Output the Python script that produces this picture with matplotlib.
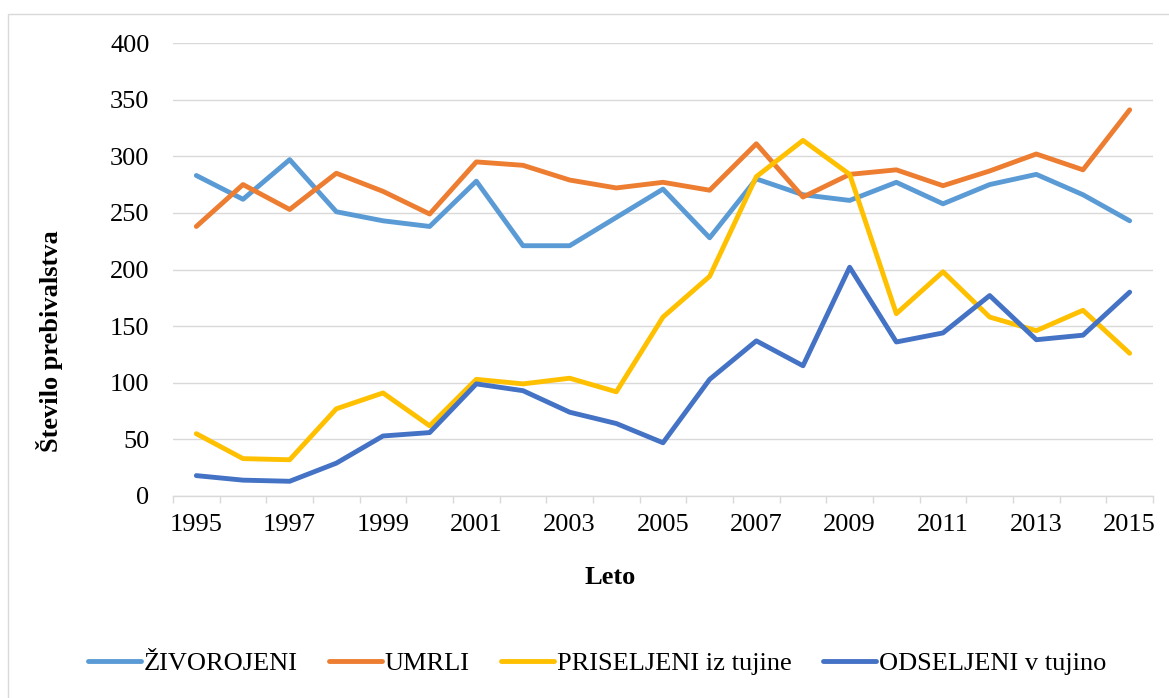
import matplotlib.pyplot as plt
from matplotlib.patches import Rectangle
import numpy as np

plt.rcParams['font.family'] = ['Liberation Serif', 'DejaVu Serif']

years = list(range(1995, 2016))
zivorojeni = [283, 262, 297, 251, 243, 238, 278, 221, 221, 246, 271, 228, 280, 266, 261, 277, 258, 275, 284, 266, 243]
umrli = [238, 275, 253, 285, 269, 249, 295, 292, 279, 272, 277, 270, 311, 264, 284, 288, 274, 287, 302, 288, 341]
priseljeni = [55, 33, 32, 77, 91, 62, 103, 99, 104, 92, 158, 194, 282, 314, 284, 161, 198, 158, 146, 164, 126]
odseljeni = [18, 14, 13, 29, 53, 56, 99, 93, 74, 64, 47, 103, 137, 115, 202, 136, 144, 177, 138, 142, 180]

series = [
    ('ŽIVOROJENI', zivorojeni, '#5B9BD5'),
    ('UMRLI', umrli, '#ED7D31'),
    ('PRISELJENI iz tujine', priseljeni, '#FFC000'),
    ('ODSELJENI v tujino', odseljeni, '#4472C4'),
]

W, H = 1169, 698
fs = 19
fig = plt.figure(figsize=(W / 100, H / 100), dpi=100)
ax = fig.add_axes([173 / W, 1 - 496 / H, (1153 - 173) / W, (496 - 43) / H])

x = np.arange(len(years))
for name, vals, col in series:
    ax.plot(x, vals, color=col, lw=3.5, label=name,
            solid_capstyle='round', solid_joinstyle='round')

grid_col = '#D9D9D9'
ax.set_xlim(-0.5, len(years) - 0.5)
ax.set_ylim(0, 400)
ax.set_yticks(range(0, 401, 50))
ax.yaxis.grid(True, color=grid_col, lw=1.0)
ax.set_axisbelow(True)

ax.set_xticks(x[::2])
ax.set_xticklabels([str(y) for y in years[::2]])
ax.set_xticks(np.arange(-0.5, len(years), 1), minor=True)
ax.tick_params(axis='x', which='major', length=0, pad=13, labelsize=fs)
ax.tick_params(axis='x', which='minor', length=5, width=1.0, color=grid_col, direction='out')
ax.tick_params(axis='y', length=0, pad=17, labelsize=fs)

for s in ['top', 'right', 'left']:
    ax.spines[s].set_visible(False)
ax.spines['bottom'].set_color(grid_col)
ax.spines['bottom'].set_linewidth(1.0)

fig.text(50 / W, 1 - 341 / H, 'Število prebivalstva', rotation=90,
         ha='center', va='center', fontsize=fs, fontweight='bold')
fig.text(610 / W, 1 - 578 / H, 'Leto', ha='center', va='center',
         fontsize=fs, fontweight='bold')

fig.legend(loc='center', bbox_to_anchor=(597 / W, 1 - 663 / H), ncol=4,
           frameon=False, fontsize=fs, handlelength=2.0, handletextpad=0.1,
           columnspacing=1.2)

fig.patches.append(Rectangle((8 / W, -0.1), 1.2, 1 - 14 / H + 0.1,
                             transform=fig.transFigure, fill=False,
                             edgecolor=grid_col, lw=1.0))

fig.savefig('out.png', dpi=100)
